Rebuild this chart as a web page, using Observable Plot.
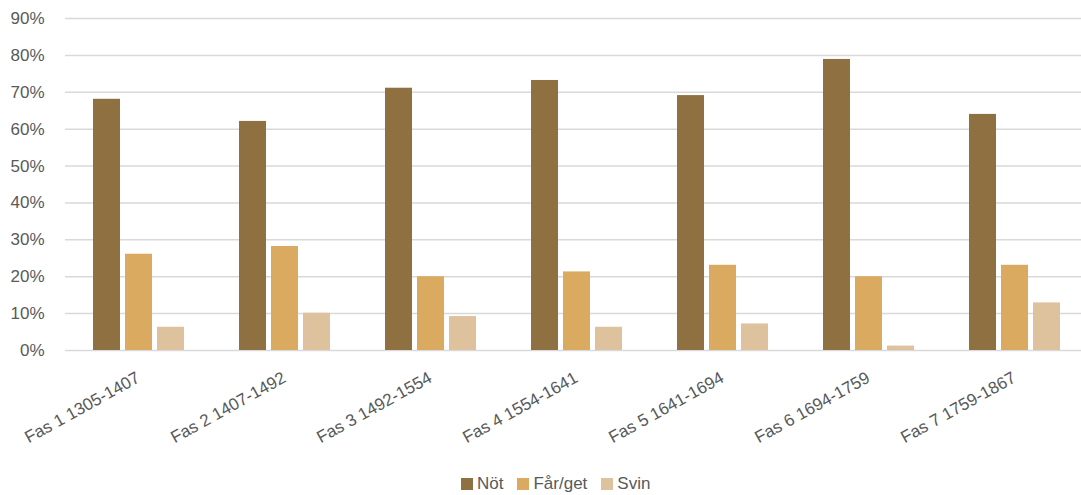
<!DOCTYPE html>
<html>
<head>
<meta charset="utf-8">
<script src="https://cdn.jsdelivr.net/npm/d3@7"></script>
<script src="https://cdn.jsdelivr.net/npm/@observablehq/plot@0.6"></script>
<style>
  html, body { margin: 0; padding: 0; background: #fff; }
  #chart { width: 1081px; height: 495px; overflow: hidden; font-family: "Liberation Sans", Arial, sans-serif; }
  #chart svg { display: block; }
  .legend { display: flex; align-items: center; height: 30px; margin-top: 4px; padding-left: 461px; color: #595959; font-size: 17px; }
  .legend .item { display: flex; align-items: center; margin-right: 14px; }
  .legend .sw { width: 12px; height: 12px; margin-right: 4px; display: inline-block; }
</style>
</head>
<body>
<div id="chart"></div>
<script>
const phases = ["Fas 1 1305-1407", "Fas 2 1407-1492", "Fas 3 1492-1554", "Fas 4 1554-1641", "Fas 5 1641-1694", "Fas 6 1694-1759", "Fas 7 1759-1867"];
const species = ["Nöt", "Får/get", "Svin"];
const notValues = [68.1, 62.1, 71.1, 73.2, 69.1, 78.9, 64.0];
const farValues = [26.1, 28.2, 20.0, 21.3, 23.1, 20.0, 23.1];
const svinValues = [6.3, 10.1, 9.2, 6.3, 7.2, 1.2, 12.9];
const yTicks = [0, 10, 20, 30, 40, 50, 60, 70, 80, 90];
const colors = ["#8F7040", "#DAAA60", "#DEC29E"];

const seriesValues = [notValues, farValues, svinValues];
const data = [];
phases.forEach((p, i) => {
  species.forEach((s, j) => {
    data.push({phase: p, species: s, value: seriesValues[j][i] / 100});
  });
});

const chart = Plot.plot({
  width: 1081,
  height: 465,
  marginLeft: 64,
  marginRight: -6,
  marginTop: 18,
  marginBottom: 115,
  style: {fontFamily: "'Liberation Sans', Arial, sans-serif", fontSize: "17px", color: "#595959", background: "#fff"},
  fx: {domain: phases, padding: 0, label: null},
  x: {domain: species, axis: null, paddingInner: 0.17, paddingOuter: 0.83},
  y: {domain: [0, 0.9], axis: null},
  color: {domain: species, range: colors},
  marks: [
    Plot.gridY(yTicks.map(t => t / 100), {stroke: "#D9D9D9", strokeOpacity: 1, strokeWidth: 1.5}),
    Plot.barY(data, {fx: "phase", x: "species", y: "value", fill: "species"}),
    Plot.axisY(yTicks.map(t => t / 100), {tickSize: 0, tickPadding: 21, tickFormat: d => Math.round(d * 100) + "%", fill: "#595959", fontSize: 17, label: null}),
    Plot.axisFx({anchor: "bottom", tickSize: 0, tickPadding: 26, tickRotate: -29, fill: "#595959", fontSize: 17, label: null})
  ]
});

const container = document.getElementById("chart");
container.appendChild(chart);

const legend = document.createElement("div");
legend.className = "legend";
species.forEach((s, i) => {
  const item = document.createElement("span");
  item.className = "item";
  const sw = document.createElement("span");
  sw.className = "sw";
  sw.style.background = colors[i];
  const label = document.createElement("span");
  label.textContent = s;
  item.appendChild(sw);
  item.appendChild(label);
  legend.appendChild(item);
});
container.appendChild(legend);
</script>
</body>
</html>
